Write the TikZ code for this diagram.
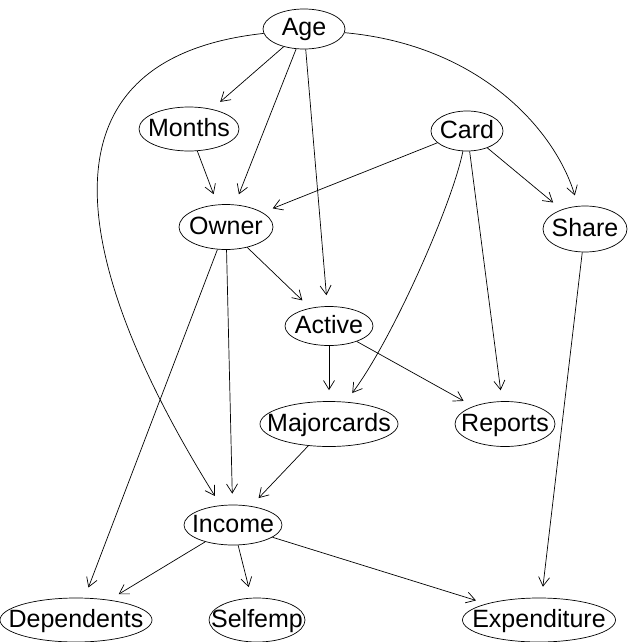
\documentclass[tikz,border=0pt]{standalone}
\usepackage{fontspec}
\setmainfont{Liberation Sans}
\usetikzlibrary{shapes.geometric,arrows.meta}
\begin{document}
\begin{tikzpicture}[x=1pt,y=-1pt,
  nd/.style={draw, ellipse, inner sep=0pt, line width=0.7pt, font=\fontsize{25}{29}\selectfont, text height=19pt, text depth=5pt},
  ed/.style={line width=0.7pt, -{Straight Barb[length=9pt,width=11pt]}, shorten >=11pt}]
\useasboundingbox (0,0) rectangle (632,642);
\node[nd, minimum width=82pt, minimum height=40pt] (Age) at (304,29) {\makebox[0pt]{Age}};
\node[nd, minimum width=100pt, minimum height=44pt] (Months) at (189,129) {\makebox[0pt]{Months}};
\node[nd, minimum width=72pt, minimum height=40pt] (Card) at (467,131) {\makebox[0pt]{Card}};
\node[nd, minimum width=94pt, minimum height=45pt] (Owner) at (226,227) {\makebox[0pt]{Owner}};
\node[nd, minimum width=84pt, minimum height=46pt] (Share) at (585,229) {\makebox[0pt]{Share}};
\node[nd, minimum width=88pt, minimum height=39pt] (Active) at (329,326) {\makebox[0pt]{Active}};
\node[nd, minimum width=138pt, minimum height=45pt] (Majorcards) at (329,424) {\makebox[0pt]{Majorcards}};
\node[nd, minimum width=100pt, minimum height=45pt] (Reports) at (505,424) {\makebox[0pt]{Reports}};
\node[nd, minimum width=98pt, minimum height=40pt] (Income) at (233,525) {\makebox[0pt]{Income}};
\node[nd, minimum width=152pt, minimum height=44pt] (Dependents) at (76,620) {\makebox[0pt]{Dependents}};
\node[nd, minimum width=96pt, minimum height=44pt] (Selfemp) at (257,620) {\makebox[0pt]{Selfemp}};
\node[nd, minimum width=153pt, minimum height=44pt] (Expenditure) at (539,620) {\makebox[0pt]{Expenditure}};

\draw[ed] (Age) -- (Months);
\draw[ed] (Age) -- (Owner);
\draw[ed] (Age) -- (Active);
\draw[ed] (Age) .. controls (480,45) and (555,130) .. (Share);
\draw[ed] (Age) .. controls (20,60) and (80,280) .. (Income);
\draw[ed] (Months) -- (Owner);
\draw[ed] (Card) -- (Owner);
\draw[ed] (Card) -- (Share);
\draw[ed] (Card) .. controls (452,205) and (392,340) .. (Majorcards);
\draw[ed] (Card) -- (Reports);
\draw[ed] (Owner) -- (Active);
\draw[ed] (Owner) -- (Income);
\draw[ed] (Owner) -- (Dependents);
\draw[ed] (Active) -- (Majorcards);
\draw[ed] (Active) -- (Reports);
\draw[ed] (Majorcards) -- (Income);
\draw[ed] (Share) -- (Expenditure);
\draw[ed] (Income) -- (Dependents);
\draw[ed] (Income) -- (Selfemp);
\draw[ed] (Income) -- (Expenditure);
\end{tikzpicture}
\end{document}
